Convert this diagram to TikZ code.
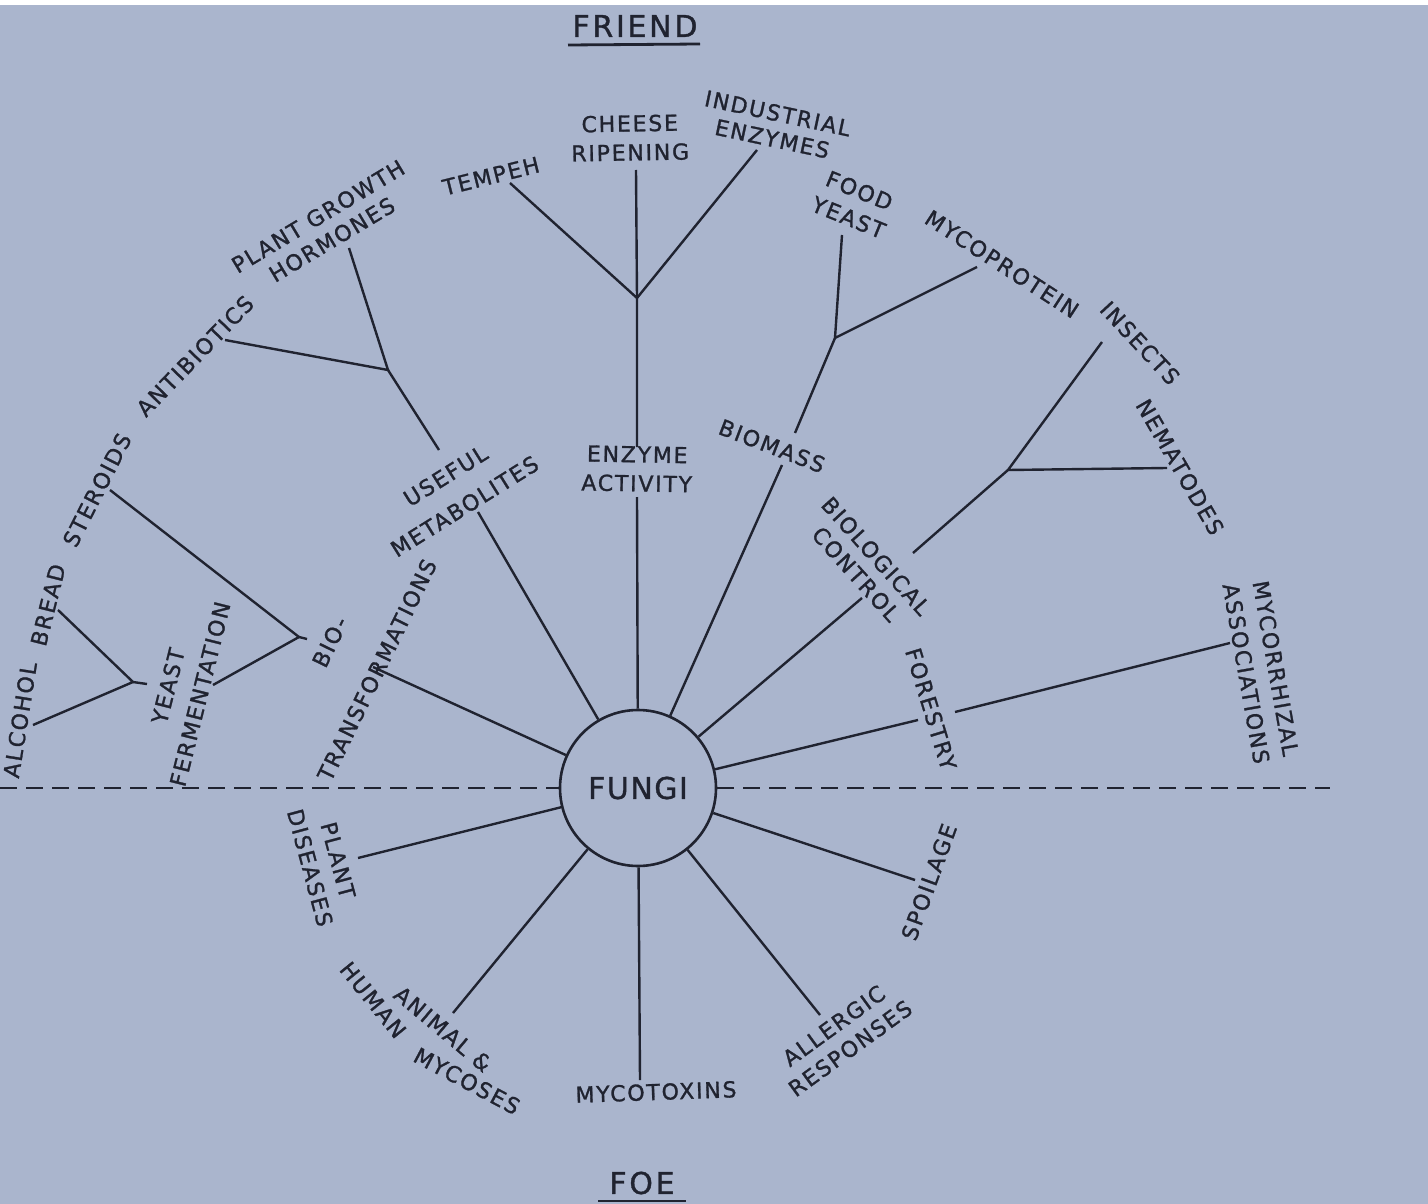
\documentclass[tikz,border=0pt]{standalone}
\usepackage{fontspec}
\newfontfamily\lblfont[LetterSpace=8,FakeBold=1.2]{DejaVu Sans}
\newfontfamily\ttlfont[LetterSpace=9,FakeBold=1.2]{DejaVu Sans}
\newfontfamily\fungfont[LetterSpace=5,FakeBold=1.2]{DejaVu Sans}
\definecolor{bgc}{RGB}{170,181,205}
\definecolor{inkc}{RGB}{32,35,48}
\begin{document}
\begin{tikzpicture}[x=1pt,y=-1pt,
  ink/.style={draw=inkc, line width=2.4pt},
  dashline/.style={draw=inkc, line width=2.5pt, dash pattern=on 17pt off 9pt},
  lbl/.style={font=\lblfont\fontsize{22}{#1}\selectfont, text=inkc, align=center, inner sep=0pt},
  lbl/.default=29,
  ttl/.style={font=\ttlfont\fontsize{30}{30}\selectfont, text=inkc, inner sep=0pt}]
\fill[bgc] (0,0) rectangle (1428,1204);
\fill[white] (0,0) rectangle (1428,5);
\useasboundingbox (0,0) rectangle (1428,1204);

% centre
\node[circle, draw=inkc, line width=2.6pt, minimum size=156pt, inner sep=0pt,
      font=\fungfont\fontsize{30}{30}\selectfont, text=inkc] (fungi) at (638,788) {FUNGI};

% coordinates
\coordinate (dL) at (0,788);
\coordinate (dR) at (1330,788);
\coordinate (sBio) at (373,667);
\coordinate (sMet) at (478,512);
\coordinate (sEnz) at (637,497);
\coordinate (sBms) at (782,465);
\coordinate (sBc) at (862,598);
\coordinate (sFor) at (918,720);
\coordinate (sPd) at (358,858);
\coordinate (sMy) at (453,1013);
\coordinate (sTx) at (640,1080);
\coordinate (sAl) at (820,1015);
\coordinate (sSp) at (915,880);
\coordinate (bStem) at (307,639);
\coordinate (bV) at (299,637);
\coordinate (eSter) at (110,490);
\coordinate (eYf) at (213,685);
\coordinate (yStem) at (147,684);
\coordinate (yV) at (133,682);
\coordinate (eBread) at (58,610);
\coordinate (eAlc) at (33,725);
\coordinate (mS) at (439,450);
\coordinate (mV) at (388,370);
\coordinate (eHorm) at (349,248);
\coordinate (eAnti) at (225,340);
\coordinate (eS) at (637,447);
\coordinate (eV) at (637,298);
\coordinate (eChe) at (636,170);
\coordinate (eTem) at (510,183);
\coordinate (eInd) at (757,150);
\coordinate (bmS) at (795,433);
\coordinate (bmV) at (835,338);
\coordinate (eFood) at (842,235);
\coordinate (eMyco) at (977,267);
\coordinate (cS) at (913,553);
\coordinate (cV) at (1008,470);
\coordinate (eIns) at (1102,342);
\coordinate (eNem) at (1167,468);
\coordinate (fS) at (955,712);
\coordinate (eMyc) at (1230,643);
\coordinate (fu1) at (568,45);
\coordinate (fu2) at (700,44);
\coordinate (fo1) at (598,1201);
\coordinate (fo2) at (686,1201);

% dashed divider
\draw[dashline] (dL) -- (fungi);
\draw[dashline] (fungi) -- (dR);

% spokes
\foreach \e in {sBio,sMet,sEnz,sBms,sBc,sFor,sPd,sMy,sTx,sAl,sSp}
  \draw[ink] (fungi) -- (\e);

% branches
\draw[ink] (eSter) -- (bV) -- (eYf);
\draw[ink] (bV) -- (bStem);
\draw[ink] (eBread) -- (yV) -- (eAlc);
\draw[ink] (yV) -- (yStem);
\draw[ink] (mS) -- (mV);
\draw[ink] (eHorm) -- (mV) -- (eAnti);
\draw[ink] (eS) -- (eV) -- (eChe);
\draw[ink] (eTem) -- (eV) -- (eInd);
\draw[ink] (bmS) -- (bmV);
\draw[ink] (eFood) -- (bmV) -- (eMyco);
\draw[ink] (cS) -- (cV);
\draw[ink] (eIns) -- (cV) -- (eNem);
\draw[ink] (fS) -- (eMyc);

% titles
\node[ttl] (friend) at (635,26) {FRIEND};
\draw[ink, line width=2.8pt] (fu1) -- (fu2);
\node[ttl] (foe) at (642,1183) {FOE};
\draw[ink, line width=2.8pt] (fo1) -- (fo2);

% outer labels (friend side)
\node[lbl, rotate=81] (alc) at (20,720) {ALCOHOL};
\node[lbl, rotate=76] (bread) at (48,605) {BREAD};
\node[lbl, rotate=63] (ster) at (97,490) {STEROIDS};
\node[lbl, rotate=46] (anti) at (195,356) {ANTIBIOTICS};
\node[lbl=27, rotate=31] (pgh) at (325,228) {PLANT GROWTH\\HORMONES};
\node[lbl, rotate=14] (tem) at (491,176) {TEMPEH};
\node[lbl, rotate=1] (che) at (630,138) {CHEESE\\RIPENING};
\node[lbl=26, rotate=-12] (ind) at (775,126) {INDUSTRIAL\\ENZYMES};
\node[lbl, rotate=-22] (food) at (854,204) {FOOD\\YEAST};
\node[lbl, rotate=-33] (myco) at (1002,264) {MYCOPROTEIN};
\node[lbl, rotate=-47] (ins) at (1140,343) {INSECTS};
\node[lbl, rotate=-60] (nem) at (1180,467) {NEMATODES};
\node[lbl=30, rotate=-80] (mycor) at (1261,671) {MYCORRHIZAL\\ASSOCIATIONS};

% middle labels
\node[lbl=33, rotate=76] (yf) at (184,690) {YEAST\\FERMENTATION};
\node[lbl, rotate=64] (bio) at (330,642) {BIO-};
\node[lbl, rotate=64] (trans) at (377,670) {TRANSFORMATIONS};
\node[lbl=36, rotate=32] (um) at (455,491) {USEFUL\\METABOLITES};
\node[lbl, rotate=-1] (enz) at (637,469) {ENZYME\\ACTIVITY};
\node[lbl, rotate=-21] (bms) at (772,446) {BIOMASS};
\node[lbl=27, rotate=-48] (bc) at (866,565) {BIOLOGICAL\\CONTROL};
\node[lbl, rotate=-73] (for) at (931,709) {FORESTRY};

% foe side
\node[lbl, rotate=-75] (pd) at (324,864) {PLANT\\DISEASES};
\node[lbl, rotate=-40] (anim) at (443,1029) {ANIMAL \&};
\node[lbl, rotate=-51] (hum) at (373,1000) {HUMAN};
\node[lbl, rotate=-28] (mycs) at (467,1081) {MYCOSES};
\node[lbl, rotate=2] (tox) at (656,1092) {MYCOTOXINS};
\node[lbl=28, rotate=36] (all) at (842,1037) {ALLERGIC\\RESPONSES};
\node[lbl, rotate=70] (spo) at (929,882) {SPOILAGE};
\end{tikzpicture}
\end{document}
